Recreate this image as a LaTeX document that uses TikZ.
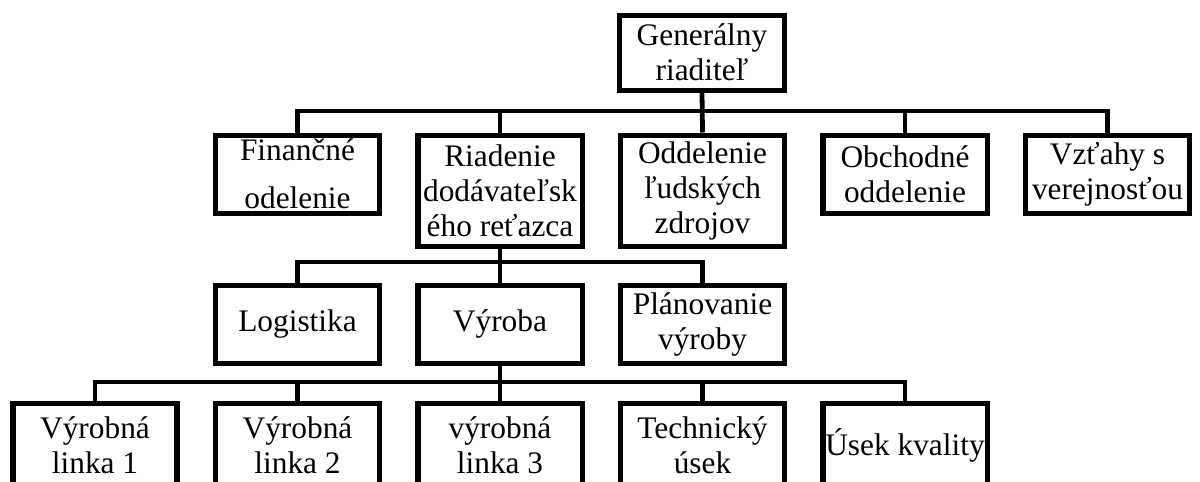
\documentclass[tikz,border=0pt]{standalone}
\usepackage{fontspec}
\setmainfont{Liberation Serif}
\usetikzlibrary{positioning}

\begin{document}
\begin{tikzpicture}[x=0.025cm, y=-0.025cm,
        box/.style={draw, line width=3.6pt, minimum width=4.1cm, minimum height=1.95cm, inner sep=0pt, align=center, anchor=north, font=\fontsize{22.3}{24.9}\selectfont},
        tallbox/.style={box, minimum height=2.775cm},
        lowbox/.style={box, minimum height=2.125cm},
        link/.style={line width=3.4pt}]
        \useasboundingbox (0,0) rectangle (1200,481);
        \clip (0,0) rectangle (1200,481);

        \node[box, minimum width=4.125cm, minimum height=1.875cm] (gen) at (702,12.5) {Generálny\\riaditeľ};

        \node[box] (fin) at (297.5,132.5) {Finančné\\[0.325cm]odelenie};
        \node[tallbox] (rid) at (500,132.5) {Riadenie\\dodávateľsk\\ého reťazca};
        \node[tallbox] (odd) at (702.5,132.5) {Oddelenie\\ľudských\\zdrojov};
        \node[box] (obc) at (905,132.5) {Obchodné\\oddelenie};
        \node[box] (vzt) at (1107.5,132.5) {Vzťahy s\\verejnosťou};

        \node[box] (log) at (297.5,282.5) {Logistika};
        \node[box] (vyr) at (500,282.5) {Výroba};
        \node[box] (pla) at (702.5,282.5) {Plánovanie\\výroby};

        \node[lowbox] (lin1) at (95,400.5) {Výrobná\\linka 1};
        \node[lowbox] (lin2) at (297.5,400.5) {Výrobná\\linka 2};
        \node[lowbox] (lin3) at (500,400.5) {výrobná\\linka 3};
        \node[lowbox] (tech) at (702.5,400.5) {Technický\\úsek};
        \node[lowbox] (kval) at (905,400.5) {Úsek kvality};

        \coordinate (bus1) at (0,111);
        \coordinate (bus2) at (0,262);
        \coordinate (bus3) at (0,382);

        \draw[link] (gen.south) -- (odd.north);
        \draw[link] (fin.north) |- (bus1 -| vzt.north) -- (vzt.north);
        \draw[link] (rid.north) -- (rid.north |- bus1);
        \draw[link] (obc.north) -- (obc.north |- bus1);

        \draw[link] (rid.south) -- (vyr.north);
        \draw[link] (log.north) |- (bus2 -| pla.north) -- (pla.north);

        \draw[link] (vyr.south) -- (lin3.north);
        \draw[link] (lin1.north) |- (bus3 -| kval.north) -- (kval.north);
        \draw[link] (lin2.north) -- (lin2.north |- bus3);
        \draw[link] (tech.north) -- (tech.north |- bus3);
    \end{tikzpicture}
\end{document}
